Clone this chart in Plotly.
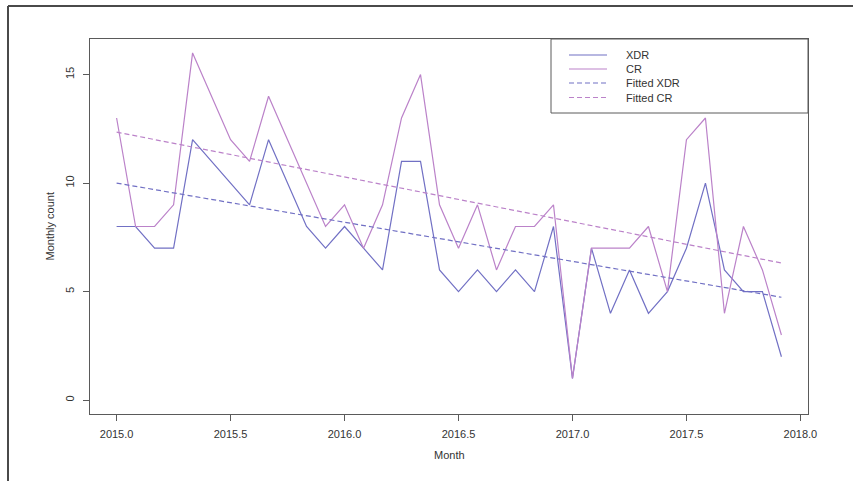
import plotly.graph_objects as go

# Monthly case counts, Jan 2015 - Dec 2017
month_index = list(range(36))
months = [2015 + m / 12 for m in month_index]

xdr = [8, 8, 7, 7, 12, 11, 10, 9, 12, 10, 8, 7,
       8, 7, 6, 11, 11, 6, 5, 6, 5, 6, 5, 8,
       1, 7, 4, 6, 4, 5, 7, 10, 6, 5, 5, 2]
cr = [13, 8, 8, 9, 16, 14, 12, 11, 14, 12, 10, 8,
      9, 7, 9, 13, 15, 9, 7, 9, 6, 8, 8, 9,
      1, 7, 7, 7, 8, 5, 12, 13, 4, 8, 6, 3]

# Fitted trend lines (start / end of the series)
fit_x = [2015.0, 2017.0 + 11 / 12]
fit_xdr = [10.0, 4.74]
fit_cr = [12.35, 6.32]

x_ticks = [2015.0, 2015.5, 2016.0, 2016.5, 2017.0, 2017.5, 2018.0]
y_ticks = [0, 5, 10, 15]

legend_labels = ["XDR", "CR", "Fitted XDR", "Fitted CR"]

XDR_COL = "#7170c4"
CR_COL = "#bb82c9"
AXIS_COL = "#5a5a5a"
TEXT_COL = "#333333"
FONT = "Liberation Sans, Arial, sans-serif"

W, H = 853, 483
L, R, T, B = 90, 45, 39, 69
PW, PH = W - L - R, H - T - B


def px(xpix):
    return (xpix - L) / PW


def py(ypix):
    return (H - B - ypix) / PH


fig = go.Figure()
fig.add_trace(go.Scatter(x=months, y=xdr, mode="lines", name="XDR",
                         line=dict(color=XDR_COL, width=1.2)))
fig.add_trace(go.Scatter(x=months, y=cr, mode="lines", name="CR",
                         line=dict(color=CR_COL, width=1.2)))
fig.add_trace(go.Scatter(x=fit_x, y=fit_xdr, mode="lines", name="Fitted XDR",
                         line=dict(color=XDR_COL, width=1.2, dash="5px,3px")))
fig.add_trace(go.Scatter(x=fit_x, y=fit_cr, mode="lines", name="Fitted CR",
                         line=dict(color=CR_COL, width=1.2, dash="5px,3px")))

shapes = []
annotations = []

# outer frame (top and left edges)
shapes.append(dict(type="line", xref="paper", yref="paper",
                   x0=px(8), x1=px(853), y0=py(6), y1=py(6),
                   line=dict(color="#4a4a4a", width=2)))
shapes.append(dict(type="line", xref="paper", yref="paper",
                   x0=px(8), x1=px(8), y0=py(6), y1=py(481),
                   line=dict(color="#4a4a4a", width=2)))

# legend box in the top-right corner of the plot
shapes.append(dict(type="rect", xref="paper", yref="paper",
                   x0=px(551), x1=1.0, y0=py(113), y1=1.0,
                   line=dict(color=AXIS_COL, width=1), fillcolor="white"))
row_y = [55, 69, 83, 97.5]
row_col = [XDR_COL, CR_COL, XDR_COL, CR_COL]
row_dash = ["solid", "solid", "5px,3px", "5px,3px"]
for label, yy, col, dsh in zip(legend_labels, row_y, row_col, row_dash):
    shapes.append(dict(type="line", xref="paper", yref="paper",
                       x0=px(569), x1=px(607), y0=py(yy), y1=py(yy),
                       line=dict(color=col, width=1.2, dash=dsh)))
    annotations.append(dict(text=label, xref="paper", yref="paper",
                            x=px(624), y=py(yy), xanchor="left", yanchor="middle",
                            showarrow=False,
                            font=dict(family=FONT, size=11, color=TEXT_COL)))

# axis titles
annotations.append(dict(text="Month", xref="paper", yref="paper",
                        x=0.5, y=py(455), xanchor="center", yanchor="middle",
                        showarrow=False, font=dict(family=FONT, size=11, color=TEXT_COL)))
annotations.append(dict(text="Monthly count", xref="paper", yref="paper",
                        x=px(49), y=0.5, xanchor="center", yanchor="middle",
                        textangle=-90, showarrow=False,
                        font=dict(family=FONT, size=11, color=TEXT_COL)))

fig.update_layout(
    width=W, height=H,
    margin=dict(l=L, r=R, t=T, b=B),
    paper_bgcolor="white", plot_bgcolor="white",
    showlegend=False,
    shapes=shapes, annotations=annotations,
    font=dict(family=FONT, size=11, color=TEXT_COL),
)
fig.update_xaxes(
    range=[2014.8833, 2018.0333], tickvals=x_ticks,
    ticktext=[f"{v:.1f}" for v in x_ticks],
    showgrid=False, zeroline=False,
    showline=True, mirror=True, linecolor=AXIS_COL, linewidth=1,
    ticks="outside", ticklen=6, tickcolor=AXIS_COL, tickwidth=1,
    ticklabelstandoff=4, tickfont=dict(family=FONT, size=11, color=TEXT_COL),
)
fig.update_yaxes(
    range=[-0.64, 16.64], tickvals=y_ticks,
    ticktext=[str(v) for v in y_ticks], tickangle=-90,
    showgrid=False, zeroline=False,
    showline=True, mirror=True, linecolor=AXIS_COL, linewidth=1,
    ticks="outside", ticklen=6, tickcolor=AXIS_COL, tickwidth=1,
    ticklabelstandoff=5, tickfont=dict(family=FONT, size=11, color=TEXT_COL),
)

fig.write_html("out.html")
